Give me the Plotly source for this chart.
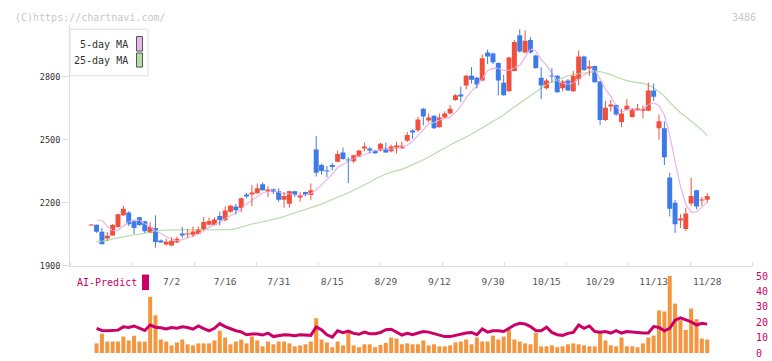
import plotly.graph_objects as go

W, H = 772, 361

# ---------------- data ----------------
tick_pos = [15, 25, 35, 45, 55, 65, 75, 85, 95, 105, 115]
tick_labels = ["7/2", "7/16", "7/31", "8/15", "8/29", "9/12", "9/30",
               "10/15", "10/29", "11/13", "11/28"]

opens = [2093, 2095, 2062, 2034, 2044, 2085, 2141, 2154, 2112, 2131,
         2112, 2057, 2080, 2019, 2006, 1997, 2011, 2050, 2050, 2048,
         2052, 2072, 2095, 2094, 2137, 2117, 2158, 2183, 2175, 2238,
         2241, 2246, 2288, 2258, 2265, 2255, 2214, 2195, 2255, 2230,
         2251, 2237, 2454, 2380, 2354, 2380, 2395, 2440, 2406, 2398,
         2421, 2460, 2456, 2445, 2449, 2458, 2445, 2466, 2463, 2495,
         2543, 2546, 2648, 2592, 2615, 2560, 2606, 2625, 2689, 2714,
         2758, 2805, 2795, 2782, 2915, 2911, 2865, 2772, 2731, 2828,
         2998, 2915, 2975, 2901, 2795, 2745, 2806, 2805, 2745, 2782,
         2731, 2788, 2897, 2844, 2851, 2777, 2594, 2662, 2666, 2585,
         2643, 2608, 2643, 2638, 2638, 2735, 2555, 2555, 2320, 2200,
         2121, 2075, 2197, 2260, 2212, 2215]
highs = [2097, 2096, 2080, 2061, 2099, 2147, 2186, 2160, 2115, 2133,
         2114, 2108, 2140, 2025, 2029, 2035, 2039, 2086, 2075, 2087,
         2087, 2132, 2130, 2131, 2157, 2183, 2190, 2194, 2224, 2246,
         2285, 2292, 2297, 2278, 2268, 2269, 2251, 2258, 2258, 2251,
         2253, 2292, 2518, 2386, 2375, 2389, 2449, 2463, 2417, 2430,
         2452, 2486, 2465, 2449, 2486, 2486, 2477, 2491, 2491, 2537,
         2551, 2609, 2652, 2625, 2617, 2625, 2635, 2666, 2717, 2754,
         2809, 2846, 2800, 2906, 2929, 2915, 2868, 2809, 2895, 2975,
         3026, 3021, 2989, 2905, 2846, 2790, 2842, 2808, 2786, 2790,
         2828, 2925, 2900, 2878, 2853, 2780, 2685, 2689, 2668, 2648,
         2694, 2650, 2671, 2663, 2772, 2768, 2620, 2588, 2343, 2214,
         2145, 2177, 2320, 2262, 2228, 2246]
lows = [2093, 2057, 2003, 2018, 2044, 2083, 2138, 2090, 2052, 2090,
        2057, 2055, 1987, 2010, 1997, 1995, 2008, 2033, 2033, 2037,
        2050, 2068, 2092, 2092, 2092, 2112, 2153, 2145, 2155, 2222,
        2185, 2244, 2258, 2228, 2242, 2205, 2177, 2177, 2228, 2205,
        2232, 2214, 2325, 2334, 2321, 2355, 2393, 2405, 2294, 2389,
        2418, 2445, 2435, 2433, 2445, 2437, 2440, 2435, 2460, 2490,
        2505, 2537, 2569, 2583, 2552, 2558, 2603, 2622, 2686, 2680,
        2740, 2768, 2745, 2780, 2860, 2860, 2712, 2710, 2729, 2826,
        2915, 2912, 2911, 2838, 2694, 2740, 2772, 2724, 2731, 2733,
        2728, 2760, 2828, 2805, 2772, 2571, 2589, 2634, 2615, 2561,
        2640, 2606, 2640, 2602, 2636, 2685, 2501, 2380, 2135, 2057,
        2080, 2066, 2186, 2169, 2186, 2201]
closes = [2097, 2062, 2003, 2043, 2094, 2145, 2172, 2098, 2080, 2094,
          2065, 2085, 2013, 2014, 2015, 2020, 2029, 2046, 2054, 2063,
          2075, 2109, 2114, 2121, 2118, 2163, 2186, 2165, 2222, 2234,
          2249, 2269, 2260, 2262, 2251, 2214, 2232, 2255, 2237, 2234,
          2237, 2260, 2343, 2352, 2350, 2370, 2432, 2409, 2402, 2426,
          2449, 2464, 2452, 2436, 2481, 2440, 2468, 2470, 2472, 2523,
          2539, 2597, 2611, 2606, 2555, 2606, 2625, 2648, 2712, 2710,
          2805, 2786, 2763, 2888, 2897, 2869, 2782, 2712, 2892, 2966,
          2920, 2971, 2915, 2842, 2758, 2782, 2802, 2726, 2777, 2735,
          2805, 2897, 2832, 2848, 2774, 2594, 2652, 2666, 2620, 2625,
          2662, 2648, 2647, 2648, 2735, 2705, 2588, 2417, 2172, 2098,
          2125, 2149, 2232, 2183, 2216, 2232]

# lines and volume start at candle 1
ma5 = [2117, 2117, 2088, 2068, 2069, 2091, 2110, 2118, 2118,
       2102, 2084, 2067, 2054, 2039, 2030, 2018, 2025, 2033, 2042,
       2053, 2069, 2083, 2096, 2107, 2125, 2140, 2151, 2171, 2194,
       2211, 2228, 2247, 2255, 2258, 2251, 2244, 2243, 2238, 2234,
       2239, 2244, 2262, 2285, 2308, 2335, 2369, 2383, 2393, 2408,
       2424, 2430, 2438, 2445, 2456, 2454, 2455, 2459, 2466, 2474,
       2494, 2520, 2548, 2575, 2582, 2595, 2601, 2608, 2629, 2660,
       2700, 2732, 2755, 2790, 2828, 2841, 2840, 2830, 2830, 2844,
       2854, 2892, 2933, 2923, 2881, 2854, 2820, 2782, 2769, 2765,
       2769, 2788, 2809, 2823, 2831, 2789, 2740, 2707, 2661, 2631,
       2645, 2644, 2640, 2646, 2668, 2676, 2664, 2619, 2523, 2396,
       2280, 2192, 2155, 2157, 2181, 2202]
ma25 = [2014, 2017, 2021, 2028, 2033, 2040, 2045, 2048, 2051,
        2054, 2060, 2067, 2070, 2070, 2071, 2071, 2071, 2071, 2071,
        2071, 2072, 2072, 2072, 2072, 2072, 2072, 2077, 2085, 2093,
        2099, 2104, 2109, 2115, 2121, 2127, 2135, 2143, 2152, 2160,
        2168, 2176, 2185, 2194, 2205, 2215, 2226, 2237, 2248, 2260,
        2272, 2285, 2298, 2313, 2327, 2337, 2346, 2352, 2359, 2370,
        2381, 2392, 2405, 2418, 2432, 2447, 2463, 2478, 2489, 2500,
        2512, 2526, 2542, 2557, 2572, 2586, 2601, 2618, 2638, 2656,
        2673, 2691, 2711, 2730, 2748, 2763, 2775, 2786, 2797, 2805,
        2811, 2815, 2819, 2822, 2824, 2825, 2818, 2810, 2799, 2789,
        2782, 2776, 2771, 2769, 2760, 2748, 2730, 2708, 2678, 2654,
        2629, 2610, 2591, 2568, 2546, 2520]
volume = [6.3, 12.6, 7.5, 7.5, 7.5, 10.7, 8.2, 11.3, 7.5, 7.5,
          36.5, 24.5, 8.8, 7.5, 5.0, 6.9, 8.8, 5.7, 5.0, 6.3,
          6.3, 6.3, 8.2, 14.5, 10.1, 5.7, 7.5, 8.8, 6.3, 10.7,
          8.2, 4.4, 7.5, 5.7, 7.5, 7.5, 6.3, 4.4, 5.0, 5.7,
          7.5, 22.6, 8.8, 6.9, 3.8, 7.5, 5.0, 13.8, 5.0, 3.8,
          5.7, 5.7, 3.8, 5.3, 6.6, 10.1, 9.4, 5.7, 6.3, 5.7,
          5.7, 8.2, 5.0, 5.7, 4.4, 4.4, 5.0, 6.9, 7.5, 8.8,
          5.7, 10.1, 7.5, 7.5, 11.3, 8.8, 10.7, 15.1, 8.8, 7.5,
          6.3, 5.7, 13.2, 4.4, 4.4, 5.0, 3.8, 4.4, 5.7, 6.3,
          5.7, 5.0, 4.4, 4.4, 14.5, 8.2, 5.0, 4.4, 10.1, 4.4,
          4.4, 3.8, 6.3, 10.1, 11.3, 27.7, 27.0, 50.0, 32.1, 21.4,
          15.1, 28.9, 22.0, 9.4, 8.8]
ai_predict = [16.1, 14.7, 14.5, 14.9, 14.9, 17.0, 16.6, 17.6, 16.4, 14.7,
              18.2, 16.8, 16.4, 15.7, 16.6, 16.1, 17.0, 16.6, 15.5, 17.6,
              15.9, 14.5, 16.1, 19.1, 17.2, 15.7, 14.5, 13.8, 11.9, 12.4,
              12.4, 11.7, 13.0, 10.7, 11.5, 11.9, 11.7, 11.3, 11.9, 11.5,
              11.5, 17.0, 15.1, 11.9, 10.3, 14.5, 13.2, 14.3, 12.8, 12.2,
              13.6, 12.6, 12.6, 13.3, 15.2, 15.5, 13.6, 11.7, 12.8, 11.9,
              13.0, 14.0, 13.6, 12.8, 11.5, 10.7, 10.7, 11.5, 12.4, 13.0,
              13.4, 11.9, 15.7, 13.6, 14.5, 14.5, 14.0, 16.1, 18.2, 19.3,
              18.9, 17.2, 14.7, 14.5, 16.8, 13.4, 11.9, 11.5, 12.8, 13.4,
              18.2, 16.1, 17.6, 14.0, 13.6, 14.0, 13.0, 14.5, 13.0, 14.0,
              13.6, 13.6, 13.0, 13.0, 17.2, 16.6, 14.5, 16.1, 21.4, 22.9,
              21.4, 20.3, 18.2, 19.3, 18.8]

# ---------------- styles ----------------
RED = "#F0503C"
BLUE = "#3F7BE8"
ORANGE = "#F3963F"
MAGENTA = "#CC0066"
PINK = "#E8B6E8"
GREEN = "#B6DCA6"
FONT = "DejaVu Sans Mono"

n = len(closes)
idx = list(range(n))
idx_l = idx[1:]

up = [i for i in idx if closes[i] >= opens[i]]
dn = [i for i in idx if closes[i] < opens[i]]


def wick_xy(ids):
    xs, ys = [], []
    for i in ids:
        xs += [i, i, None]
        ys += [lows[i], highs[i], None]
    return xs, ys


fig = go.Figure()

# moving averages (behind candles)
fig.add_trace(go.Scatter(x=idx_l, y=ma25, mode="lines",
                         line=dict(color=GREEN, width=1.2), hoverinfo="skip"))
fig.add_trace(go.Scatter(x=idx_l, y=ma5, mode="lines",
                         line=dict(color=PINK, width=1.2), hoverinfo="skip"))

for ids, col in ((up, RED), (dn, BLUE)):
    wx, wy = wick_xy(ids)
    fig.add_trace(go.Scatter(x=wx, y=wy, mode="lines",
                             line=dict(color=col, width=1), hoverinfo="skip"))
    fig.add_trace(go.Bar(x=ids, base=[opens[i] for i in ids],
                         y=[closes[i] - opens[i] for i in ids],
                         width=0.93, marker=dict(color=col, line=dict(width=0))))

# lower panel
fig.add_trace(go.Bar(x=idx_l, y=volume, width=0.75,
                     marker=dict(color=ORANGE, line=dict(width=0)),
                     xaxis="x2", yaxis="y2"))
fig.add_trace(go.Scatter(x=idx_l, y=ai_predict, mode="lines",
                         line=dict(color=MAGENTA, width=3),
                         xaxis="x2", yaxis="y2"))


def px(x):
    return x / W


def py(y):
    return 1 - y / H


XR = [-3.96, 123.36]
XD = [px(70), px(752)]
TOP = 20
y_top_val = 1900 + (268 - TOP) / 0.21667

fig.update_layout(
    width=W, height=H, autosize=False,
    margin=dict(l=0, r=0, t=0, b=0),
    paper_bgcolor="white", plot_bgcolor="white",
    showlegend=False, barmode="overlay",
    font=dict(family=FONT),
    xaxis=dict(domain=XD, range=XR, anchor="y",
               tickvals=tick_pos, ticktext=tick_labels, ticks="",
               ticklabelstandoff=7,
               tickfont=dict(family=FONT, size=9.5, color="#555555"),
               showgrid=False, zeroline=False,
               showline=True, linecolor="#e0e0e0", linewidth=1,
               minor=dict(tick0=XR[0], dtick=(XR[1] - XR[0]) / 11,
                          ticks="inside", ticklen=4, tickcolor="#dddddd",
                          tickwidth=1, showgrid=False)),
    yaxis=dict(domain=[py(268), py(TOP)], range=[1900, y_top_val],
               anchor="x", tickvals=[1900, 2200, 2500, 2800],
               ticks="outside", ticklen=7, tickcolor="#dddddd",
               tickfont=dict(family=FONT, size=8.5, color="#333333"),
               showgrid=False, zeroline=False,
               showline=True, linecolor="#e0e0e0", linewidth=1),
    xaxis2=dict(domain=XD, range=XR, anchor="y2", visible=False),
    yaxis2=dict(domain=[py(358), py(278.5)], range=[0, 50], anchor="x2",
                side="right", tickvals=[0, 10, 20, 30, 40, 50], ticks="",
                ticklabelstandoff=3,
                tickfont=dict(family=FONT, size=10, color=MAGENTA),
                showgrid=False, zeroline=False, showline=False),
)

shapes = [
    # legend box
    dict(type="rect", xref="paper", yref="paper",
         x0=px(70), x1=px(148), y0=py(72), y1=py(24),
         line=dict(color="#dddddd", width=1), fillcolor="white", layer="above"),
    dict(type="rect", xref="paper", yref="paper",
         x0=px(136.5), x1=px(142.5), y0=py(46.5), y1=py(31.5),
         line=dict(color="#555555", width=1), fillcolor=PINK, layer="above"),
    dict(type="rect", xref="paper", yref="paper",
         x0=px(136.5), x1=px(142.5), y0=py(63), y1=py(48.5),
         line=dict(color="#555555", width=1), fillcolor=GREEN, layer="above"),
    # AI-Predict swatch
    dict(type="rect", xref="paper", yref="paper",
         x0=px(142), x1=px(149), y0=py(293), y1=py(277),
         line=dict(width=0), fillcolor=MAGENTA, layer="above"),
]

annotations = [
    dict(text="(C)https://chartnavi.com/", xref="paper", yref="paper",
         x=px(13), y=py(12), xanchor="left", yanchor="middle", showarrow=False,
         font=dict(family=FONT, size=10, color="#c8c8c8")),
    dict(text="3486", xref="paper", yref="paper",
         x=px(758), y=py(12), xanchor="right", yanchor="middle", showarrow=False,
         font=dict(family=FONT, size=10, color="#c8c8c8")),
    dict(text="5-day MA", xref="paper", yref="paper",
         x=px(130), y=py(40), xanchor="right", yanchor="middle", showarrow=False,
         font=dict(family=FONT, size=10, color="#333333")),
    dict(text="25-day MA", xref="paper", yref="paper",
         x=px(130), y=py(56.5), xanchor="right", yanchor="middle", showarrow=False,
         font=dict(family=FONT, size=10, color="#333333")),
    dict(text="AI-Predict", xref="paper", yref="paper",
         x=px(75), y=py(285.5), xanchor="left", yanchor="middle", showarrow=False,
         font=dict(family=FONT, size=10, color=MAGENTA)),
]

fig.update_layout(shapes=shapes, annotations=annotations)
fig.write_html(
    "out.html",
    config={"displayModeBar": False},
    default_width="772px", default_height="361px",
    post_script=(
        "document.documentElement.style.margin='0';"
        "document.documentElement.style.overflow='hidden';"
        "document.body.style.margin='0';"
        "document.body.style.padding='0';"
        "document.body.style.overflow='hidden';"
    ),
)
